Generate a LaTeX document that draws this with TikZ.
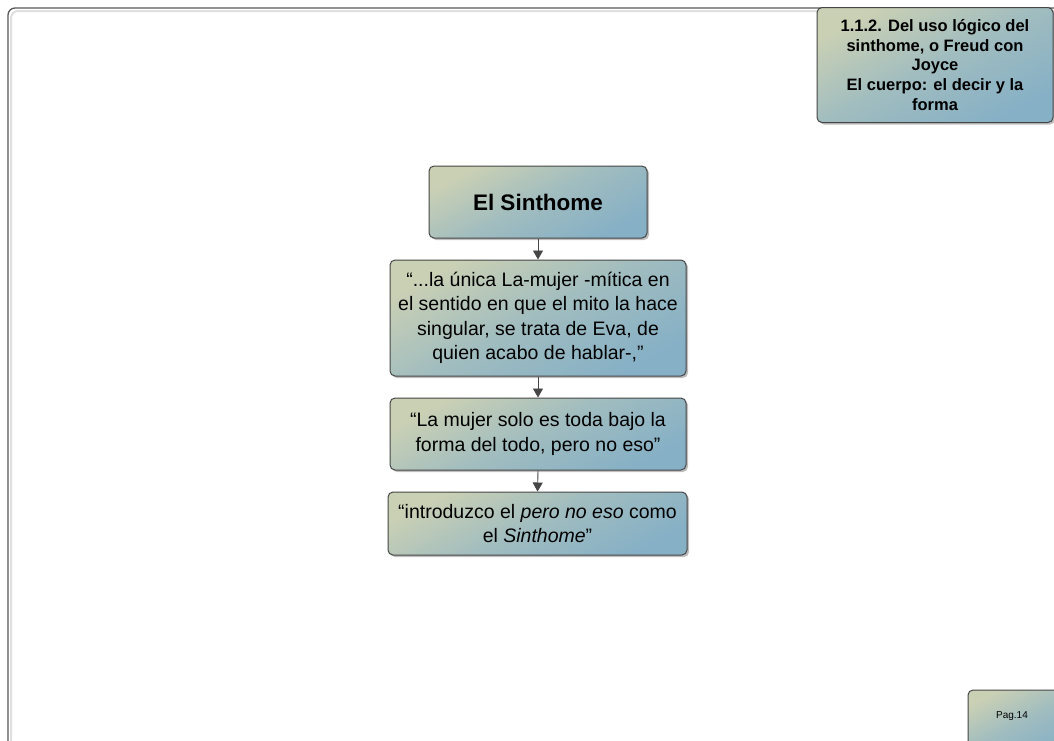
\documentclass[tikz,border=0pt]{standalone}
\usepackage{fontspec}
\setmainfont{Liberation Sans}
\usetikzlibrary{arrows.meta,shadows}
\definecolor{gradA}{RGB}{202,208,180}
\definecolor{gradB}{RGB}{134,176,198}
\definecolor{edgegray}{RGB}{70,70,70}
\tikzset{
  card/.style={draw=edgegray, line width=1pt, rounded corners=5pt,
    top color=gradA, bottom color=gradB, middle color=gradB!62!gradA, shading angle=28,
    drop shadow={shadow xshift=2pt, shadow yshift=-2pt, fill=black, opacity=0.25},
    align=center, inner sep=0pt, text=black},
  bodytext/.style={font=\fontsize{19.5}{24.5}\selectfont},
  link/.style={draw=edgegray, line width=0.9pt, -{Triangle[length=9pt,width=10pt]}}
}
\begin{document}
\begin{tikzpicture}[x=1pt,y=-1pt]
  \clip (0,0) rectangle (1054,740);
  \fill[white] (0,0) rectangle (1054,740);
  % page frame
  \draw[gray!25, line width=2pt, rounded corners=7pt] (11,11) rectangle (1080,770);
  \draw[edgegray!90, line width=1.3pt, rounded corners=7pt] (8,8) rectangle (1080,770);

  % title card and page number card
  \node[card, minimum width=236pt, minimum height=115pt,
        font=\bfseries\fontsize{16.5}{19.6}\selectfont] (title) at (935,65)
    {1.1.2. Del uso lógico del\\sinthome, o Freud con\\Joyce\\El cuerpo: el decir y la\\forma};
  \node[card, minimum width=96pt, minimum height=70pt] (pag) at (1016,725) {};
  \node[font=\fontsize{10}{12}\selectfont, anchor=center] (pagtxt) at (1012,716) {Pag.14};

  % flow of cards
  \node[card, minimum width=218pt, minimum height=72pt,
        font=\bfseries\fontsize{22.5}{26}\selectfont] (sinthome) at (538,202) {El Sinthome};
  \node[card, bodytext, minimum width=296pt, minimum height=116pt] (eva) at (538,318)
    {“...la única La-mujer -mítica en\\el sentido en que el mito la hace\\singular, se trata de Eva, de\\quien acabo de hablar-,”};
  \node[card, bodytext, minimum width=296pt, minimum height=72pt] (toda) at (538,434)
    {“La mujer solo es toda bajo la\\forma del todo, pero no eso”};
  \node[card, bodytext, minimum width=299pt, minimum height=63pt] (pero) at (537.5,523.5)
    {“introduzco el \textit{pero no eso} como\\el \textit{Sinthome}”};

  \draw[link] (sinthome.south) -- (eva.north);
  \draw[link] (eva.south) -- (toda.north);
  \draw[link] (toda.south) -- (pero.north);
\end{tikzpicture}
\end{document}
